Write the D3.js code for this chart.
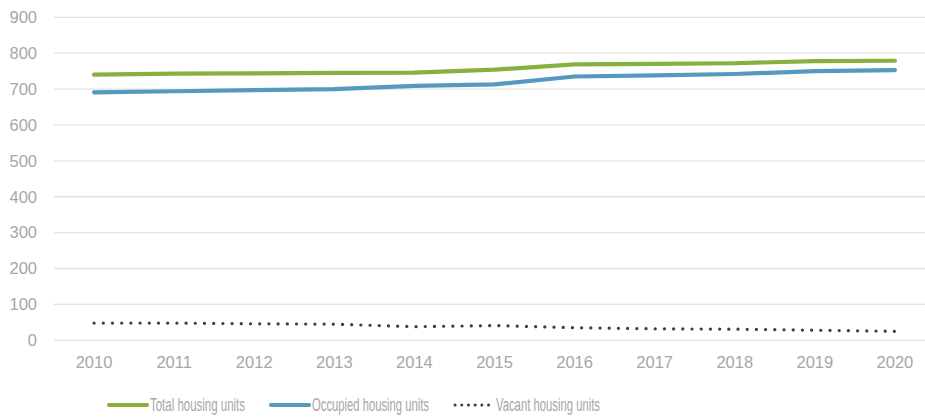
<!DOCTYPE html>
<html>
<head>
<meta charset="utf-8">
<script src="https://cdnjs.cloudflare.com/ajax/libs/d3/7.8.5/d3.min.js"></script>
<style>
  body { margin: 0; background: #fff; }
  svg text { font-family: "Liberation Sans", Arial, sans-serif; fill: #a6a6a6; }
</style>
</head>
<body>
<svg id="chart" width="925" height="418"></svg>
<script>
// data
var years = ["2010", "2011", "2012", "2013", "2014", "2015", "2016", "2017", "2018", "2019", "2020"];
var total = [740, 743, 744, 745, 746, 754, 769, 770, 772, 778, 779];
var occupied = [691, 694, 697, 700, 709, 713, 735, 738, 742, 750, 753];
var vacant = [48, 48, 46, 45, 38, 41, 35, 32, 31, 28, 25];
var yTicks = [0, 100, 200, 300, 400, 500, 600, 700, 800, 900];
var seriesNames = ["Total housing units", "Occupied housing units", "Vacant housing units"];

var svg = d3.select("#chart");

var x = d3.scaleBand().domain(years).range([54, 935]);
var y = d3.scaleLinear().domain([0, 900]).range([340.3, 17.3]);

// gridlines
svg.append("g")
  .selectAll("line")
  .data(yTicks)
  .enter()
  .append("line")
  .attr("x1", 54)
  .attr("x2", 925)
  .attr("y1", function(d) { return y(d); })
  .attr("y2", function(d) { return y(d); })
  .attr("stroke", "#e3e3e3")
  .attr("stroke-width", 1.3);

// y axis labels
var yAxis = svg.append("g")
  .attr("transform", "translate(37,0)")
  .call(d3.axisLeft(y).tickValues(yTicks).tickSize(0).tickPadding(0));
yAxis.select(".domain").remove();
yAxis.selectAll("text")
  .style("font-size", "16.5px")
  .style("fill", "#a6a6a6")
  .style("font-family", "'Liberation Sans', Arial, sans-serif");

// x axis labels
var xAxis = svg.append("g")
  .attr("transform", "translate(0,356)")
  .call(d3.axisBottom(x).tickSize(0).tickPadding(0));
xAxis.select(".domain").remove();
xAxis.selectAll("text")
  .style("font-size", "16.5px")
  .style("fill", "#a6a6a6")
  .style("font-family", "'Liberation Sans', Arial, sans-serif");

function xc(i) {
  return x(years[i]) + x.bandwidth() / 2;
}

var line = d3.line()
  .x(function(d, i) { return xc(i); })
  .y(function(d) { return y(d); });

var series = [
  { name: seriesNames[0], values: total, color: "#87b13f", width: 4.2, dash: null },
  { name: seriesNames[1], values: occupied, color: "#5599c1", width: 4.2, dash: null },
  { name: seriesNames[2], values: vacant, color: "#404040", width: 3.2, dash: "0.1 9.1" }
];

series.forEach(function(s) {
  svg.append("path")
    .datum(s.values)
    .attr("d", line)
    .attr("fill", "none")
    .attr("stroke", s.color)
    .attr("stroke-width", s.width)
    .attr("stroke-linecap", "round")
    .attr("stroke-linejoin", "round")
    .attr("stroke-dasharray", s.dash);
});

// legend
var legendX = [109, 271, 455];
var legendTextW = [95, 117, 104];
var legendY = 405;
var legend = svg.append("g");
series.forEach(function(s, i) {
  legend.append("line")
    .attr("x1", legendX[i])
    .attr("x2", legendX[i] + 38)
    .attr("y1", legendY)
    .attr("y2", legendY)
    .attr("stroke", s.color)
    .attr("stroke-width", s.dash ? 3 : 4.2)
    .attr("stroke-linecap", "round")
    .attr("stroke-dasharray", s.dash ? "0.1 6.6" : null);
  legend.append("text")
    .attr("x", legendX[i] + 41)
    .attr("y", legendY)
    .attr("dy", "0.35em")
    .attr("textLength", legendTextW[i])
    .attr("lengthAdjust", "spacingAndGlyphs")
    .style("font-size", "18px")
    .style("font-family", "'Liberation Sans Narrow', 'Liberation Sans', sans-serif")
    .text(s.name);
});
</script>
</body>
</html>
